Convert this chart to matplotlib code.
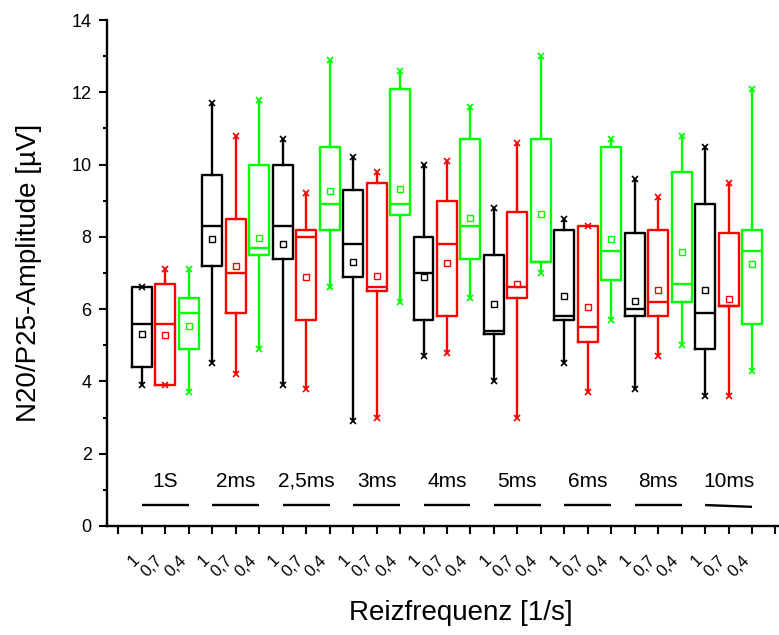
import numpy as np
import matplotlib
matplotlib.use('Agg')
from matplotlib import pyplot as plt

plt.rcParams['font.family'] = ['Liberation Sans', 'DejaVu Sans']

# ---- data ----
groups = ['1S', '2ms', '2,5ms', '3ms', '4ms', '5ms', '6ms', '8ms', '10ms']
rates = ['1', '0,7', '0,4']
colors = ['#000000', '#ff0000', '#00ff00']

# rate 1 (black)
lo_1 = [3.9, 4.5, 3.9, 2.9, 4.7, 4.0, 4.5, 3.8, 3.6]
q1_1 = [4.4, 7.2, 7.4, 6.9, 5.7, 5.3, 5.7, 5.8, 4.9]
med_1 = [5.6, 8.3, 8.3, 7.8, 7.0, 5.4, 5.8, 6.0, 5.9]
q3_1 = [6.6, 9.7, 10.0, 9.3, 8.0, 7.5, 8.2, 8.1, 8.9]
hi_1 = [6.6, 11.7, 10.7, 10.2, 10.0, 8.8, 8.5, 9.6, 10.5]
mean_1 = [5.3, 7.95, 7.8, 7.3, 6.9, 6.13, 6.35, 6.23, 6.53]

# rate 0,7 (red)
lo_07 = [3.9, 4.2, 3.8, 3.0, 4.8, 3.0, 3.7, 4.7, 3.6]
q1_07 = [3.9, 5.9, 5.7, 6.5, 5.8, 6.3, 5.1, 5.8, 6.1]
med_07 = [5.6, 7.0, 8.0, 6.6, 7.8, 6.6, 5.5, 6.2, 6.1]
q3_07 = [6.7, 8.5, 8.2, 9.5, 9.0, 8.7, 8.3, 8.2, 8.1]
hi_07 = [7.1, 10.8, 9.2, 9.8, 10.1, 10.6, 8.3, 9.1, 9.5]
mean_07 = [5.28, 7.18, 6.9, 6.92, 7.29, 6.7, 6.07, 6.52, 6.28]

# rate 0,4 (green)
lo_04 = [3.7, 4.9, 6.6, 6.2, 6.3, 7.0, 5.7, 5.0, 4.3]
q1_04 = [4.9, 7.5, 8.2, 8.6, 7.4, 7.3, 6.8, 6.2, 5.6]
med_04 = [5.9, 7.7, 8.9, 8.9, 8.3, 7.3, 7.6, 6.7, 7.6]
q3_04 = [6.3, 10.0, 10.5, 12.1, 10.7, 10.7, 10.5, 9.8, 8.2]
hi_04 = [7.1, 11.8, 12.9, 12.6, 11.6, 13.0, 10.7, 10.8, 12.1]
mean_04 = [5.54, 7.98, 9.27, 9.32, 8.51, 8.64, 7.94, 7.57, 7.24]

series = [
    (lo_1, q1_1, med_1, q3_1, hi_1, mean_1),
    (lo_07, q1_07, med_07, q3_07, hi_07, mean_07),
    (lo_04, q1_04, med_04, q3_04, hi_04, mean_04),
]

fig = plt.figure(figsize=(7.79, 6.35), dpi=100)
ax = fig.add_axes([107/779, 1-526/635, 672/779, 506/635])

n = len(groups)
for k, (lo, q1, med, q3, hi, mn) in enumerate(series):
    col = colors[k]
    pos = [3*g + k + 1 for g in range(n)]
    stats = [dict(whislo=lo[g], q1=q1[g], med=med[g], q3=q3[g], whishi=hi[g],
                  mean=mn[g], fliers=[]) for g in range(n)]
    ax.bxp(stats, positions=pos, widths=0.85, showcaps=False, showfliers=False,
           showmeans=True, manage_ticks=False,
           boxprops=dict(color=col, lw=1.7),
           whiskerprops=dict(color=col, lw=1.7),
           medianprops=dict(color=col, lw=1.7),
           meanprops=dict(marker='s', markerfacecolor='none', markeredgecolor=col,
                          markersize=4.3, markeredgewidth=1.0))
    ax.plot(pos, lo, ls='none', marker='x', color=col, ms=5, mew=1.2)
    ax.plot(pos, hi, ls='none', marker='x', color=col, ms=5, mew=1.2)

# group labels with underline
for g, name in enumerate(groups):
    ax.text(3*g + 2, 1.08, name, ha='center', va='baseline', fontsize=15)
    y_end = 0.53 if g == n - 1 else 0.58
    ax.plot([3*g + 1, 3*g + 3], [0.58, y_end], color='black', lw=1.7,
            solid_capstyle='butt')

ax.set_xlim(-0.49, 28.15)
ax.set_ylim(0, 14)
ax.set_xticks(range(0, 29))
ax.set_xticklabels([''] + rates*n + [''], rotation=45, ha='right', va='top',
                   fontsize=12)
ax.set_yticks(range(0, 15, 2))
ax.set_yticks(range(1, 14, 2), minor=True)
ax.tick_params(axis='x', direction='out', length=6, width=1.5, pad=13)
ax.tick_params(axis='y', which='major', direction='out', length=6, width=1.5,
               labelsize=13, pad=5)
ax.tick_params(axis='y', which='minor', direction='out', length=3, width=1.5)

for s in ['top', 'right']:
    ax.spines[s].set_visible(False)
for s in ['left', 'bottom']:
    ax.spines[s].set_linewidth(1.7)

fig.text(461/779, 1-613/635, 'Reizfrequenz [1/s]', ha='center', va='center',
         fontsize=20)
fig.text(29/779, 1-273/635, 'N20/P25-Amplitude [µV]', ha='center',
         va='center', rotation=90, fontsize=20)

fig.savefig('out.png', dpi=100)
